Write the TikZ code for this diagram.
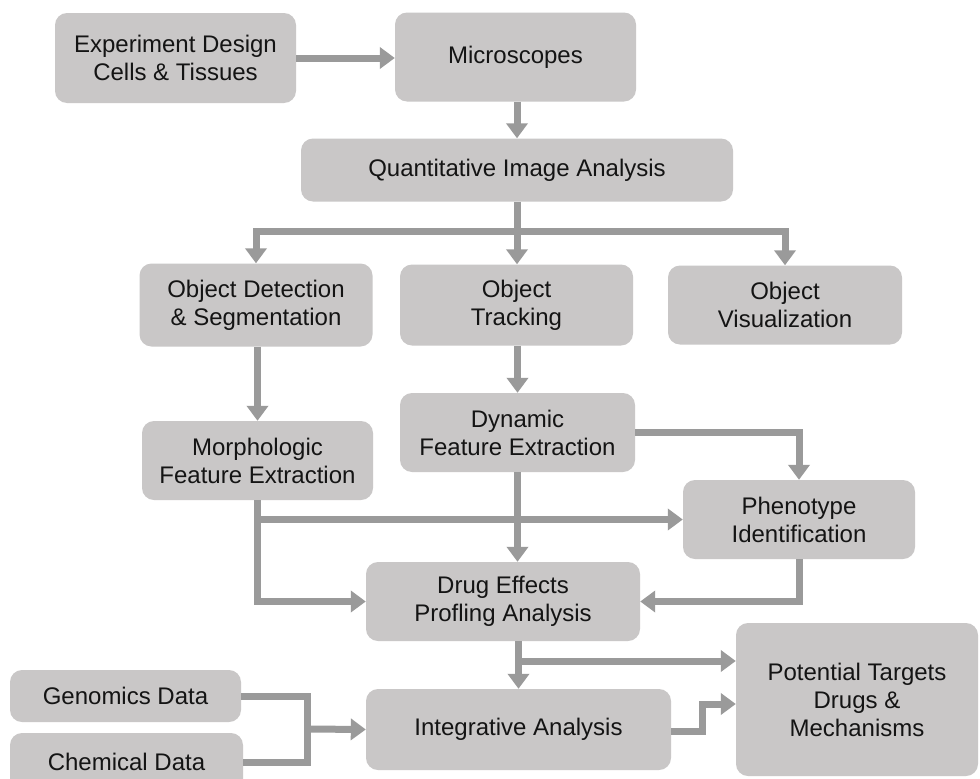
\documentclass[tikz,border=0pt]{standalone}
\usepackage{fontspec}
\setmainfont{Liberation Sans}
\usetikzlibrary{arrows.meta}
\definecolor{boxc}{RGB}{201,199,199}
\definecolor{arrc}{RGB}{154,154,154}
\definecolor{txtc}{RGB}{20,20,20}
\tikzset{
  box/.style={rectangle, rounded corners=12pt, fill=boxc, draw=none, text=txtc,
    align=center, inner sep=0pt, font=\fontsize{24}{28}\selectfont},
  conn/.style={draw=arrc, line width=7pt},
  arr/.style={conn, -{Triangle[width=21pt,length=15pt]}}
}
\begin{document}
\begin{tikzpicture}[x={(1pt,0)}, y={(0,-1pt)}]
\useasboundingbox (0,0) rectangle (980,779);
\fill[white] (0,0) rectangle (980,779);
\node[box, minimum width=241pt, minimum height=90pt] (exp) at (175.5,58) {Experiment Design\\Cells \& Tissues};
\node[box, minimum width=241pt, minimum height=89pt] (mic) at (515.5,57) {Microscopes};
\node[box, minimum width=432pt, minimum height=63pt] (qia) at (517,170) {Quantitative Image Analysis};
\node[box, minimum width=233pt, minimum height=83pt] (ods) at (256,305) {Object Detection\\\& Segmentation};
\node[box, minimum width=233pt, minimum height=81pt] (ot) at (516.5,305) {Object\\Tracking};
\node[box, minimum width=234pt, minimum height=79pt] (ov) at (785,305) {Object\\Visualization};
\node[box, minimum width=231pt, minimum height=79pt] (morph) at (257.5,460.5) {Morphologic\\Feature Extraction};
\node[box, minimum width=235pt, minimum height=79pt] (dyn) at (517.5,432.5) {Dynamic\\Feature Extraction};
\node[box, minimum width=232pt, minimum height=79pt] (pheno) at (799,519.5) {Phenotype\\Identification};
\node[box, minimum width=274pt, minimum height=79pt] (drug) at (503,601.5) {Drug Effects\\Profling Analysis};
\node[box, minimum width=231pt, minimum height=52pt] (gen) at (125.5,696) {Genomics Data};
\node[box, minimum width=233pt, minimum height=58pt] (chem) at (126.5,762) {Chemical Data};
\node[box, minimum width=305pt, minimum height=81pt] (integ) at (518.5,729.5) {Integrative Analysis};
\node[box, minimum width=242pt, minimum height=153pt] (pot) at (857,699.5) {Potential Targets\\Drugs \&\\Mechanisms};

\coordinate (sp) at (517,231);
\coordinate (gm) at (307,729);
\coordinate (br) at (518.5,661);
\coordinate (ij) at (702,731);

\draw[arr] (exp.east) -- (exp.east -| mic.west);
\draw[arr] (mic.south -| qia.north) -- (qia.north);
\draw[arr] (qia.south) -- (qia.south |- ot.north);
\draw[arr] (sp) -| (ods.north);
\draw[arr] (sp) -| (ov.north);
\draw[arr] (ods.south -| morph.north) -- (morph.north);
\draw[arr] (ot.south -| dyn.north) -- (dyn.north);
\draw[arr] (dyn.east) -| (pheno.north);
\draw[arr] (morph.south) |- (drug.west);
\draw[arr] (morph.south |- pheno.west) -- (pheno.west);
\draw[arr] (dyn.south) -- (dyn.south |- drug.north);
\draw[arr] (pheno.south) |- (drug.east);
\draw[arr] (drug.south -| integ.north) -- (integ.north);
\draw[arr] (br) -- (br -| pot.west);
\draw[conn] (gen.east) -| (gm);
\draw[conn] (chem.east) -| (gm);
\draw[arr] (gm) -- (integ.west);
\draw[arr] (integ.east |- ij) -- (ij) |- (pot.west |- 0,704);
\end{tikzpicture}
\end{document}
